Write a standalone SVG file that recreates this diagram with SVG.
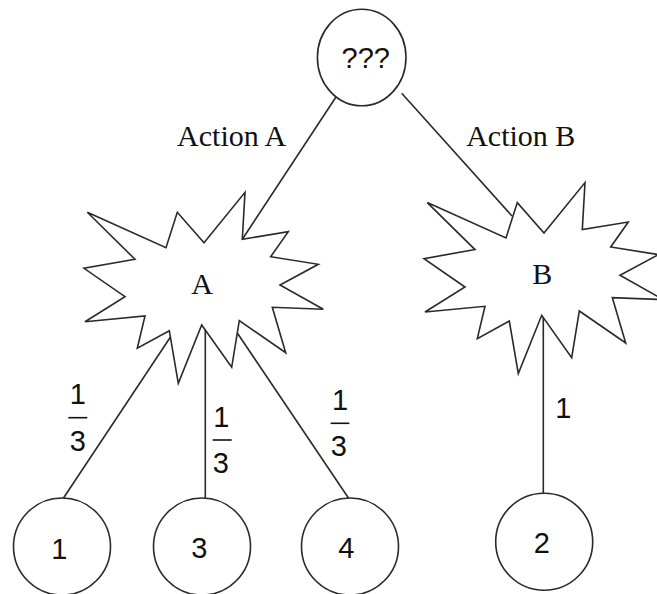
<svg xmlns="http://www.w3.org/2000/svg" width="657" height="594" viewBox="0 0 657 594">
<defs>
<style>
.edge{stroke:#2a2a2a;stroke-width:1.6;fill:none}
.node{stroke:#2a2a2a;stroke-width:1.6;fill:#fff}
.serif{font-family:"Liberation Serif","Times New Roman",serif;font-size:30px;fill:#111;text-anchor:middle}
.sans{font-family:"Liberation Sans",Arial,sans-serif;font-size:29px;fill:#111;text-anchor:middle}
.bar{stroke:#111;stroke-width:1.6}
</style>
<polygon id="burst" points="87.3,212.3 166,247.7 177.3,212.3 204,242.7 245,192.3 242.3,239.3 288.3,231.7 270.7,256.7 318.3,264.3 280,285 323.3,309.3 272.3,307.3 285.7,352.7 239.3,320.7 231.7,367.3 201.7,325 178.3,383.3 169.3,330.7 137.3,348.3 145,316 85,321.7 125,296.7 84,268.3 135,259.3"/>
</defs>
<rect width="657" height="594" fill="#fff"/>
<g id="connectors">
<line class="edge" x1="362" y1="57.5" x2="242.5" y2="239"/>
<line class="edge" x1="401.7" y1="93.3" x2="512" y2="216"/>
<line class="edge" x1="205" y1="285" x2="62.7" y2="499.3"/>
<line class="edge" x1="205.3" y1="285" x2="205.3" y2="499.3"/>
<line class="edge" x1="205" y1="285" x2="349.3" y2="499.3"/>
<line class="edge" x1="543.3" y1="280" x2="543.3" y2="493.3"/>
</g>
<g id="labels">
<text class="serif" x="231.7" y="146">Action A</text>
<text class="serif" x="520.8" y="146">Action B</text>
<text class="sans" x="77.7" y="404.3">1</text>
<line class="bar" x1="68.3" y1="417.7" x2="87.3" y2="417.7"/>
<text class="sans" x="77.9" y="451">3</text>
<text class="sans" x="221.3" y="426.7">1</text>
<line class="bar" x1="212.7" y1="440" x2="231.7" y2="440"/>
<text class="sans" x="220.7" y="472.7">3</text>
<text class="sans" x="340" y="410">1</text>
<line class="bar" x1="330.7" y1="423.3" x2="349.3" y2="423.3"/>
<text class="sans" x="338.9" y="455.7">3</text>
<text class="sans" x="563.3" y="418.3">1</text>
</g>
<g id="root">
<ellipse class="node" cx="361.7" cy="57.5" rx="44.3" ry="48.3"/>
<text class="sans" x="365.7" y="67.7">???</text>
</g>
<g id="stateA">
<use href="#burst" class="node"/>
<text class="serif" x="202" y="294.3">A</text>
</g>
<g id="stateB">
<use href="#burst" class="node" transform="translate(340,-9.7)"/>
<text class="serif" x="542.2" y="284">B</text>
</g>
<g id="leaf1">
<circle class="node" cx="62" cy="546.5" r="48.5"/>
<text class="sans" x="59.3" y="559">1</text>
</g>
<g id="leaf3">
<circle class="node" cx="202" cy="546.5" r="48.5"/>
<text class="sans" x="199.3" y="558.3">3</text>
</g>
<g id="leaf4">
<circle class="node" cx="350" cy="546.5" r="48.5"/>
<text class="sans" x="346.2" y="558.3">4</text>
</g>
<g id="leaf2">
<circle class="node" cx="544.2" cy="541.7" r="48.5"/>
<text class="sans" x="541.7" y="553.3">2</text>
</g>
</svg>
